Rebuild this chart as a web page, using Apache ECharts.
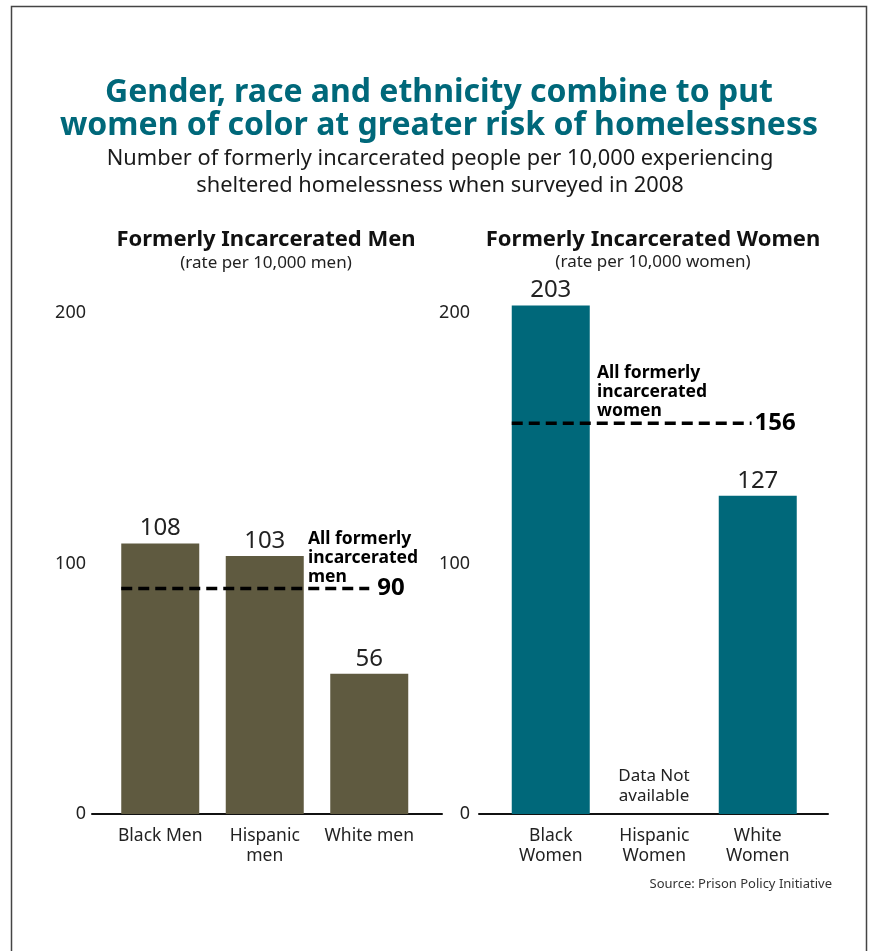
<!DOCTYPE html>
<html>
<head>
<meta charset="utf-8">
<title>Gender, race and ethnicity and homelessness</title>
<script src="https://cdn.jsdelivr.net/npm/echarts@6/dist/echarts.min.js"></script>
<style>
  html, body { margin: 0; padding: 0; background: #fff; }
  #chart { width: 874px; height: 951px; }
</style>
</head>
<body>
<div id="chart"></div>
<script>
// Rate per 10,000 formerly incarcerated people in sheltered homelessness (2008)
const menCategories = ['Black Men', 'Hispanic\nmen', 'White men'];
const menValues = [108, 103, 56];
const menAverage = 90;

const womenCategories = ['Black\nWomen', 'Hispanic\nWomen', 'White\nWomen'];
const womenValues = [203, null, 127];
const womenAverage = 156;

const yTicks = [0, 100, 200];

const FONT = '"Noto Sans", sans-serif';
const TEAL = '#00687a';
const OLIVE = '#5f5a40';
const INK = '#222';
const BAR_W = 78;

const chart = echarts.init(document.getElementById('chart'), null, { renderer: 'canvas' });

// panel geometry: [axis grid, bar grid]
const panels = [
  { axis: { left: 92, width: 350 }, bars: { left: 108, width: 313.5 } },
  { axis: { left: 479, width: 349 }, bars: { left: 499, width: 310.5 } }
];
const TOP = 313, HEIGHT = 501;

const grids = [];
panels.forEach(p => {
  grids.push({ left: p.axis.left, width: p.axis.width, top: TOP, height: HEIGHT });
  grids.push({ left: p.bars.left, width: p.bars.width, top: TOP, height: HEIGHT });
});

const yMin = yTicks[0], yMax = yTicks[yTicks.length - 1], yStep = yTicks[1] - yTicks[0];

const yAxes = grids.map((g, i) => ({
  gridIndex: i,
  type: 'value',
  min: yMin, max: yMax, interval: yStep,
  show: i % 2 === 0,
  axisLine: { show: false },
  axisTick: { show: false },
  splitLine: { show: false },
  axisLabel: {
    show: i % 2 === 0,
    margin: i === 0 ? 6 : 9,
    fontFamily: FONT, fontSize: 18, color: INK
  }
}));

const cats = [menCategories, womenCategories];
const xAxes = [];
[0, 1].forEach(k => {
  // baseline across the whole panel
  xAxes.push({
    gridIndex: k * 2, type: 'value', min: 0, max: 1,
    axisLine: { show: true, onZero: false, lineStyle: { color: '#111', width: 2 } },
    axisTick: { show: false }, axisLabel: { show: false }, splitLine: { show: false }
  });
  // category axis for the bars
  xAxes.push({
    gridIndex: k * 2 + 1, type: 'category', data: cats[k],
    axisLine: { show: false }, axisTick: { show: false },
    axisLabel: {
      margin: 12, interval: 0,
      fontFamily: FONT, fontSize: 17.5, lineHeight: 20, color: INK
    }
  });
  // hidden band-aligned value axis for the average line
  xAxes.push({
    gridIndex: k * 2 + 1, type: 'value', min: -0.5, max: 2.5, show: false
  });
});

function barSeries(k, values, color) {
  return {
    type: 'bar',
    xAxisIndex: k * 3 + 1,
    yAxisIndex: k * 2 + 1,
    data: values,
    barWidth: BAR_W,
    clip: false,
    itemStyle: { color: color },
    label: {
      show: true, position: 'top', distance: 3,
      fontFamily: FONT, fontSize: 24, color: INK
    },
    silent: true
  };
}

function avgSeries(k, avg, bandW, endX, labelGap) {
  const startX = -BAR_W / 2 / bandW;
  return {
    type: 'line',
    xAxisIndex: k * 3 + 2,
    yAxisIndex: k * 2 + 1,
    data: [[startX, avg], [endX, avg]],
    symbol: 'none',
    clip: false,
    z: 5,
    lineStyle: { color: '#000', width: 3.5, type: [11, 6] },
    endLabel: {
      show: true, distance: labelGap,
      formatter: () => String(avg),
      fontFamily: FONT, fontSize: 24, fontWeight: 'bold', color: '#000'
    },
    silent: true
  };
}

const bandMen = panels[0].bars.width / menCategories.length;
const bandWomen = panels[1].bars.width / womenCategories.length;

function text(t, pos, style) {
  return Object.assign({
    text: t,
    padding: 0,
    textStyle: Object.assign({ fontFamily: FONT, color: INK, fontWeight: 'normal' }, style)
  }, pos);
}

chart.setOption({
  animation: false,
  backgroundColor: '#fff',
  title: [
    text('Gender, race and ethnicity combine to put\nwomen of color at greater risk of homelessness',
      { left: 439, top: 76, textAlign: 'center' },
      { color: TEAL, fontSize: 32, fontWeight: 'bold', lineHeight: 33 }),
    text('Number of formerly incarcerated people per 10,000 experiencing\nsheltered homelessness when surveyed in 2008',
      { left: 440, top: 146, textAlign: 'center' },
      { fontSize: 21.8, lineHeight: 26.5, color: '#1a1a1a' }),
    text('Formerly Incarcerated Men',
      { left: 266, top: 229, textAlign: 'center' },
      { fontSize: 22, lineHeight: 22, fontWeight: 'bold', color: '#111' }),
    text('(rate per 10,000 men)',
      { left: 266, top: 253, textAlign: 'center' },
      { fontSize: 17, lineHeight: 20 }),
    text('Formerly Incarcerated Women',
      { left: 653, top: 229, textAlign: 'center' },
      { fontSize: 22, lineHeight: 22, fontWeight: 'bold', color: '#111' }),
    text('(rate per 10,000 women)',
      { left: 653, top: 252, textAlign: 'center' },
      { fontSize: 17, lineHeight: 20 }),
    text('All formerly\nincarcerated\nmen',
      { left: 308, top: 530 },
      { fontSize: 17.5, fontWeight: 'bold', lineHeight: 19, color: '#000' }),
    text('All formerly\nincarcerated\nwomen',
      { left: 597, top: 364 },
      { fontSize: 17.5, fontWeight: 'bold', lineHeight: 19, color: '#000' }),
    text('Data Not\navailable',
      { left: 654, top: 766, textAlign: 'center' },
      { fontSize: 17, lineHeight: 20 }),
    text('Source: Prison Policy Initiative',
      { right: 42, top: 878 },
      { fontSize: 13, color: '#333' })
  ],
  graphic: [{
    type: 'rect',
    shape: { x: 11.5, y: 6.5, width: 855, height: 1000 },
    style: { fill: 'none', stroke: '#444', lineWidth: 1.5 },
    silent: true
  }],
  grid: grids,
  xAxis: xAxes,
  yAxis: yAxes,
  series: [
    barSeries(0, menValues, OLIVE),
    barSeries(1, womenValues, TEAL),
    avgSeries(0, menAverage, bandMen, 2, 8),
    avgSeries(1, womenAverage, bandWomen, 1.94, 3)
  ]
});
</script>
</body>
</html>
